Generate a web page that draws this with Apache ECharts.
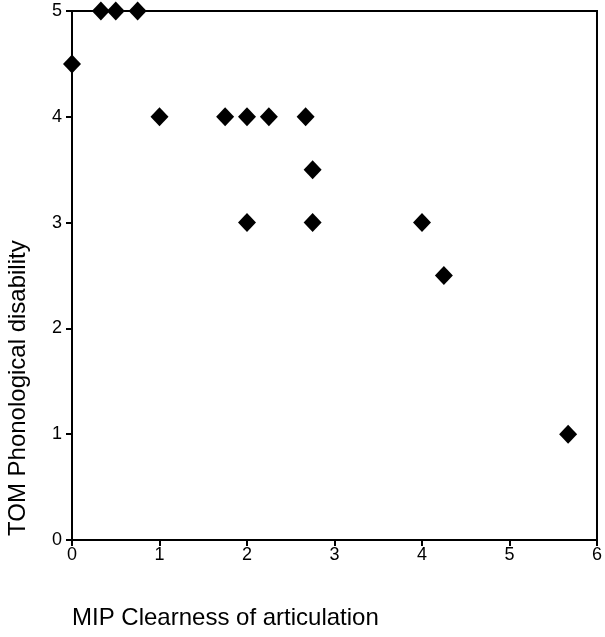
<!DOCTYPE html>
<html>
<head>
<meta charset="utf-8">
<script src="https://cdn.jsdelivr.net/npm/echarts@6/dist/echarts.min.js"></script>
<style>
  html, body { margin: 0; padding: 0; background: #fff; }
  #chart { width: 605px; height: 637px; }
</style>
</head>
<body>
<div id="chart"></div>
<script>
// MIP clearness of articulation (x) vs TOM phonological disability (y)
var mipScores = [0, 0.33, 0.5, 0.75, 1, 1.75, 2, 2.25, 2.67, 2.75, 2, 2.75, 4, 4.25, 5.67];
var tomScores = [4.5, 5, 5, 5, 4, 4, 4, 4, 4, 3.5, 3, 3, 3, 2.5, 1];
var xTicks = [0, 1, 2, 3, 4, 5, 6];
var yTicks = [0, 1, 2, 3, 4, 5];

var points = mipScores.map(function (x, i) { return [x, tomScores[i]]; });

var chart = echarts.init(document.getElementById('chart'));
var font = 'Liberation Sans, Arial, sans-serif';

var option = {
  animation: false,
  backgroundColor: '#fff',
  grid: {
    left: 72, right: 6, top: 11, bottom: 97,
    show: true, borderColor: '#000', borderWidth: 2
  },
  xAxis: {
    type: 'value',
    min: xTicks[0], max: xTicks[xTicks.length - 1], interval: 1,
    axisLine: { show: true, onZero: false, lineStyle: { color: '#000', width: 2 } },
    axisTick: { show: true, inside: false, length: 6, lineStyle: { color: '#000', width: 2 } },
    axisLabel: { color: '#000', fontSize: 18, fontFamily: font, margin: 6 },
    splitLine: { show: false }
  },
  yAxis: {
    type: 'value',
    min: yTicks[0], max: yTicks[yTicks.length - 1], interval: 1,
    axisLine: { show: true, onZero: false, lineStyle: { color: '#000', width: 2 } },
    axisTick: { show: true, inside: false, length: 6, lineStyle: { color: '#000', width: 2 } },
    axisLabel: { color: '#000', fontSize: 18, fontFamily: font, margin: 10 },
    splitLine: { show: false }
  },
  graphic: [
    {
      type: 'text', left: 72, top: 606,
      style: { text: 'MIP Clearness of articulation', fontSize: 24, fontFamily: font, fill: '#000' }
    },
    {
      type: 'text', x: 6, y: 536, rotation: Math.PI / 2,
      style: { text: 'TOM Phonological disability', fontSize: 24, fontFamily: font, fill: '#000',
               align: 'left', verticalAlign: 'top' }
    }
  ],
  series: [{
    type: 'scatter',
    data: points,
    symbol: 'diamond',
    symbolSize: [18, 19],
    itemStyle: { color: '#000', opacity: 1 }
  }]
};
chart.setOption(option);
</script>
</body>
</html>
